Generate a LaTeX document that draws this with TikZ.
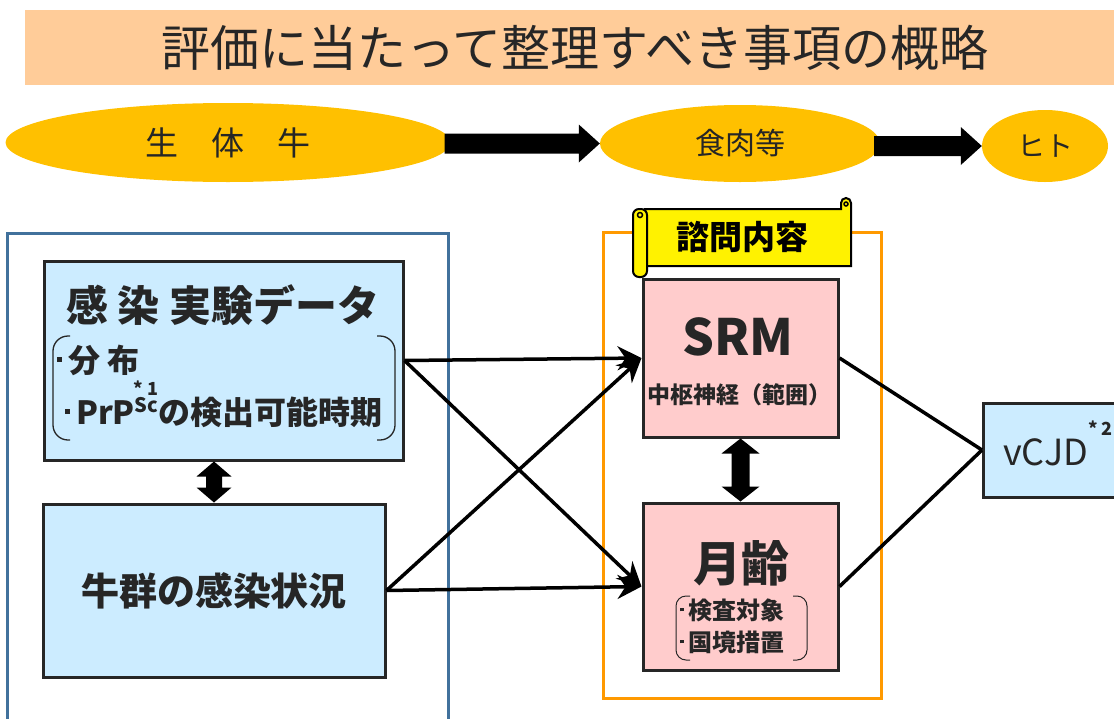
\documentclass[tikz,border=0pt]{standalone}
\usepackage{fontspec}
\setmainfont{Noto Sans CJK JP}
\usepackage{xcolor}
\usepackage{tikz}
\usetikzlibrary{positioning}
\usetikzlibrary{shapes.geometric}
\usetikzlibrary{arrows.meta}
\usetikzlibrary{calc}

\definecolor{peach}{HTML}{FFCC99}
\definecolor{gold}{HTML}{FFC000}
\definecolor{skyfill}{HTML}{CCECFF}
\definecolor{pinkfill}{HTML}{FFCCCC}
\definecolor{frameblue}{HTML}{41719C}
\definecolor{frameorange}{HTML}{FF9900}
\definecolor{ink}{HTML}{262626}

\newcommand{\sqbullet}{\raisebox{0.32em}{\rule{0.16em}{0.16em}}\hspace{0.18em}}
\newcommand{\fsz}[1]{\fontsize{#1}{#1}\selectfont}

% block arrow: start, tip
\newcommand{\hblock}[2]{\fill[black] let \p1=(#1),\p2=(#2) in
  (\x1,\y2+10pt) -- (\x2-21pt,\y2+10pt) -- (\x2-21pt,\y2+19pt) -- (\x2,\y2)
  -- (\x2-21pt,\y2-19pt) -- (\x2-21pt,\y2-10pt) -- (\x1,\y2-10pt) -- cycle;}
% double block arrow: top tip, bottom tip, half head, half shaft
\newcommand{\vdouble}[4]{\fill[black] let \p1=(#1),\p2=(#2) in
  (\x1,\y1) -- (\x1+#3,\y1-15pt) -- (\x1+#4,\y1-15pt) -- (\x1+#4,\y2+15pt)
  -- (\x1+#3,\y2+15pt) -- (\x1,\y2) -- (\x1-#3,\y2+15pt) -- (\x1-#4,\y2+15pt)
  -- (\x1-#4,\y1-15pt) -- (\x1-#3,\y1-15pt) -- cycle;}

\tikzset{
  boxstyle/.style={draw=ink, line width=3pt, inner sep=0pt, text=ink},
  bluebox/.style={boxstyle, fill=skyfill},
  pinkbox/.style={boxstyle, fill=pinkfill},
  oval/.style={ellipse, fill=gold, inner sep=0pt, text=ink},
  boxtext/.style={text=ink, inner sep=0pt},
  link/.style={line width=3.5pt, -{Stealth[length=24pt,width=24pt,inset=8pt]}},
  plainlink/.style={line width=3.5pt},
  scrollpart/.style={draw=black, fill=yellow, line width=2pt},
}

\begin{document}
\begin{tikzpicture}[x=1pt,y=-1pt]
\useasboundingbox (0,0) rectangle (1114,718);

% Title band
\node[fill=peach, minimum width=1100pt, minimum height=75pt, anchor=north west] (band) at (25,10) {};
\node[boxtext, font=\fsz{49}] (title) at (575,48) {評価に当たって整理すべき事項の概略};

% Chain of ovals
\node[oval, minimum width=445pt, minimum height=79pt, font=\fsz{33}] (cattle) at (228,142.5) {生　体　牛};
\node[oval, minimum width=280pt, minimum height=77pt, font=\fsz{30}] (meat) at (740,143.5) {食肉等};
\node[oval, minimum width=126pt, minimum height=72pt, font=\fsz{28}] (human) at (1045,146) {ヒト};
\hblock{$(cattle.east)+(-6,0)$}{meat.west}
\hblock{$(meat.east)+(-6,0)$}{human.west}

% Frames
\draw[frameblue, line width=3pt] (7,730) -- (7,233) -- (448,233) -- (448,730);
\draw[frameorange, line width=3pt] (603,232) rectangle (881,698);

% Scroll
\filldraw[scrollpart] (645,209) -- (841,209) -- (841,203) arc[start angle=180, end angle=360, radius=5] -- (851,266) -- (645,266) -- cycle;
\draw[line width=1.5pt] (846,204) circle[radius=2];
\filldraw[scrollpart, rounded corners=6pt] (633,209) rectangle (647,277);
\draw[line width=1.5pt] (640,215) circle[radius=2.5];
\node[boxtext, text=black, font=\bfseries\fsz{33}] (consult) at (742,237) {諮問内容};

% Left boxes
\node[bluebox, minimum width=359pt, minimum height=199pt] (expdata) at (223.5,360.5) {};
\node[boxtext, font=\bfseries\fsz{42}] (exptitle) at (223,305) {感 染 実験データ};
\node[boxtext, anchor=west, font=\bfseries\fsz{32}] (distr) at (57,360) {\sqbullet 分 布};
\node[boxtext, anchor=west, font=\bfseries\fsz{32}] (prp) at (65,412) {\sqbullet PrP\raisebox{0.35em}{\fsz{20}Sc}の検出可能時期};
\node[boxtext, font=\bfseries\fsz{18}] (note1) at (146,388) {* 1};
\draw[ink, line width=1.3pt, rounded corners=15pt] (70,336) -- (53,336) -- (53,440) -- (70,440);
\draw[ink, line width=1.3pt, rounded corners=15pt] (377,336) -- (395,336) -- (395,440) -- (377,440);

\node[bluebox, minimum width=342pt, minimum height=173pt, font=\bfseries\fsz{38}] (herd) at (214,590.5) {牛群の感染状況};
\vdouble{$(expdata.south -| herd.north)$}{herd.north}{17.5pt}{8pt}

% Pink boxes
\node[pinkbox, minimum width=195pt, minimum height=158pt] (srm) at (740.5,358) {};
\node[boxtext, font=\bfseries\fsz{50}] (srmtitle) at (738,337) {SRM};
\node[boxtext, font=\bfseries\fsz{23}] (cns) at (739,395) {中枢神経（範囲）};

\node[pinkbox, minimum width=195pt, minimum height=167pt] (age) at (740.5,586.5) {};
\node[boxtext, font=\bfseries\fsz{48}] (agetitle) at (741,563) {月齢};
\node[boxtext, anchor=west, font=\bfseries\fsz{24}] (testing) at (680,610) {\sqbullet 検査対象};
\node[boxtext, anchor=west, font=\bfseries\fsz{24}] (border) at (680,642) {\sqbullet 国境措置};
\draw[ink, line width=1pt, rounded corners=10pt] (690,596) -- (676,596) -- (676,660) -- (690,660);
\draw[ink, line width=1pt, rounded corners=10pt] (793,596) -- (807,596) -- (807,660) -- (793,660);
\vdouble{srm.south}{age.north}{19pt}{9pt}

% vCJD
\node[bluebox, anchor=west, minimum width=160pt, minimum height=94pt] (vcjd) at (982,450) {};
\node[boxtext, anchor=west, font=\fsz{36}] (vcjdtext) at (1003,452) {vCJD};
\node[boxtext, anchor=west, font=\bfseries\fsz{18}] (note2) at (1088,428) {* 2};

% Connectors
\draw[link] (expdata.east) -- (srm.west);
\draw[link] (expdata.east) -- (age.west);
\draw[link] (herd.east) -- (srm.west);
\draw[link] (herd.east) -- (age.west);
\draw[plainlink] (srm.east) -- (vcjd.west);
\draw[plainlink] (age.east) -- (vcjd.west);

\end{tikzpicture}
\end{document}
